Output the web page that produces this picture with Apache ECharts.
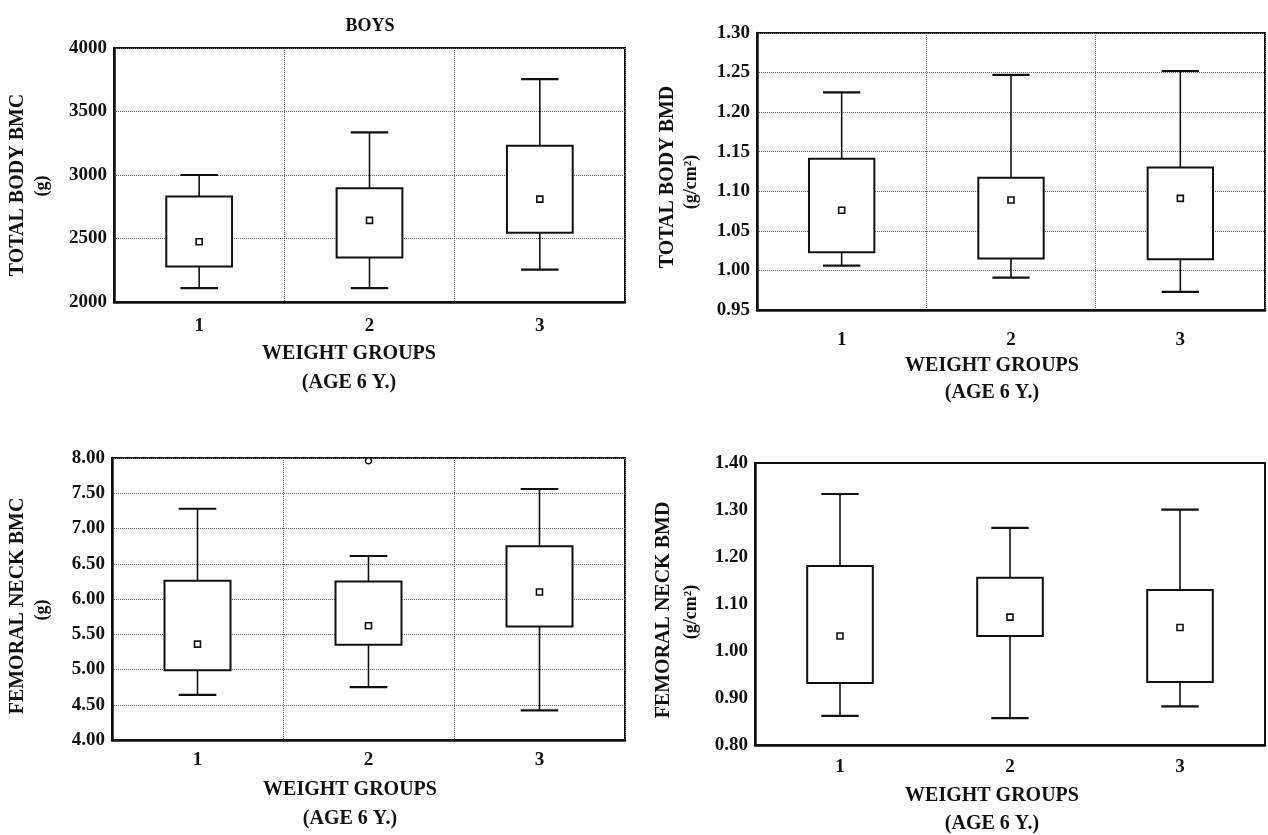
<!DOCTYPE html>
<html>
<head>
<meta charset="utf-8">
<script src="https://cdn.jsdelivr.net/npm/echarts@6/dist/echarts.min.js"></script>
<style>
html,body{margin:0;padding:0;background:#fff;}
#c{width:1268px;height:835px;}
</style>
</head>
<body>
<div id="c"></div>
<script>
// ---- data ----
const categories = ['1', '2', '3'];
// each box: [lower whisker, box bottom, box top, upper whisker]
const tbBmcBoxes = [[2110, 2280, 2830, 3000], [2110, 2350, 2895, 3335], [2255, 2545, 3230, 3755]];
const tbBmcMeans = [2475, 2643, 2810];
const tbBmdBoxes = [[1.006, 1.023, 1.141, 1.225], [0.991, 1.015, 1.117, 1.247], [0.973, 1.014, 1.130, 1.252]];
const tbBmdMeans = [1.076, 1.089, 1.091];
const fnBmcBoxes = [[4.64, 4.99, 6.26, 7.28], [4.75, 5.35, 6.25, 6.61], [4.42, 5.61, 6.75, 7.56]];
const fnBmcMeans = [5.36, 5.62, 6.10];
const fnBmcOutliers = [[1, 7.96]];
const fnBmdBoxes = [[0.862, 0.932, 1.181, 1.334], [0.857, 1.032, 1.156, 1.262], [0.882, 0.934, 1.130, 1.301]];
const fnBmdMeans = [1.032, 1.072, 1.050];
const tbBmcTicks = {min: 2000, max: 4000, interval: 500, digits: 0};
const tbBmdTicks = {min: 0.95, max: 1.30, interval: 0.05, digits: 2};
const fnBmcTicks = {min: 4.00, max: 8.00, interval: 0.5, digits: 2};
const fnBmdTicks = {min: 0.80, max: 1.40, interval: 0.1, digits: 2};

const FONT = '"Liberation Serif", "DejaVu Serif", serif';
const INK = '#111';

const grids = [
  {left: 114, top: 48, width: 511, height: 254},
  {left: 757, top: 33, width: 508, height: 277},
  {left: 112, top: 458, width: 513, height: 282},
  {left: 755, top: 463, width: 510, height: 282}
];
const ticks = [tbBmcTicks, tbBmdTicks, fnBmcTicks, fnBmdTicks];
const boxes = [tbBmcBoxes, tbBmdBoxes, fnBmcBoxes, fnBmdBoxes];
const means = [tbBmcMeans, tbBmdMeans, fnBmcMeans, fnBmdMeans];
const showGrid = [true, true, true, false];
const xLabelMargin = [15, 21, 11, 13];

function renderBox(params, api) {
  const x = api.value(0);
  const lo = api.coord([x, api.value(1)]);
  const q1 = api.coord([x, api.value(2)]);
  const q3 = api.coord([x, api.value(3)]);
  const hi = api.coord([x, api.value(4)]);
  const band = api.size([1, 0])[0];
  const bw = band * 0.193, cw = band * 0.11;
  const cx = lo[0];
  const ls = {stroke: INK, lineWidth: 1.6};
  return {
    type: 'group',
    children: [
      {type: 'line', shape: {x1: cx, y1: hi[1], x2: cx, y2: q3[1]}, style: ls},
      {type: 'line', shape: {x1: cx, y1: q1[1], x2: cx, y2: lo[1]}, style: ls},
      {type: 'line', shape: {x1: cx - cw, y1: hi[1], x2: cx + cw, y2: hi[1]}, style: {stroke: INK, lineWidth: 2.2}},
      {type: 'line', shape: {x1: cx - cw, y1: lo[1], x2: cx + cw, y2: lo[1]}, style: {stroke: INK, lineWidth: 2.2}},
      {type: 'rect', shape: {x: cx - bw, y: q3[1], width: 2 * bw, height: q1[1] - q3[1]},
        style: {fill: '#fff', stroke: INK, lineWidth: 2}}
    ]
  };
}

const xAxes = [], yAxes = [], series = [];
grids.forEach((g, i) => {
  xAxes.push({
    gridIndex: i, type: 'category', data: categories, boundaryGap: true,
    axisTick: {show: false},
    axisLine: {lineStyle: {color: INK, width: 2.5}},
    axisLabel: {color: INK, fontFamily: FONT, fontWeight: 'bold', fontSize: 19, margin: xLabelMargin[i]},
    splitLine: {show: showGrid[i], lineStyle: {type: 'dotted', color: '#666', width: 1}}
  });
  const t = ticks[i];
  yAxes.push({
    gridIndex: i, type: 'value', min: t.min, max: t.max, interval: t.interval,
    axisTick: {show: false},
    axisLine: {show: true, lineStyle: {color: INK, width: 2.5}},
    axisLabel: {color: INK, fontFamily: FONT, fontWeight: 'bold', fontSize: 19, margin: 7,
      formatter: v => v.toFixed(t.digits)},
    splitLine: {show: showGrid[i], lineStyle: {type: 'dotted', color: '#666', width: 1}}
  });
  series.push({
    type: 'custom', xAxisIndex: i, yAxisIndex: i,
    renderItem: renderBox,
    encode: {x: 0, y: [1, 2, 3, 4]},
    data: boxes[i].map((b, k) => [k, b[0], b[1], b[2], b[3]]),
    z: 3
  });
  series.push({
    type: 'scatter', xAxisIndex: i, yAxisIndex: i,
    symbol: 'rect', symbolSize: 6,
    itemStyle: {color: '#fff', borderColor: INK, borderWidth: 1.6, opacity: 1},
    data: means[i].map((m, k) => [k, m]),
    z: 5
  });
});
series.push({
  type: 'scatter', xAxisIndex: 2, yAxisIndex: 2,
  symbol: 'circle', symbolSize: 6,
  itemStyle: {color: '#fff', borderColor: INK, borderWidth: 1.4, opacity: 1},
  data: fnBmcOutliers, z: 5
});

function txt(x, y, s, size, rot) {
  return {
    type: 'text', x: x, y: y, rotation: rot ? Math.PI / 2 : 0,
    style: {text: s, fill: INK, font: 'bold ' + size + 'px ' + FONT, align: 'center', verticalAlign: 'middle'}
  };
}

const graphics = [
  txt(370, 26, 'BOYS', 18),
  txt(18, 185, 'TOTAL BODY BMC', 20, true),
  txt(42, 186, '(g)', 18, true),
  txt(349, 354, 'WEIGHT GROUPS', 20),
  txt(349, 383, '(AGE 6 Y.)', 20),
  txt(668, 177, 'TOTAL BODY BMD', 20, true),
  txt(691, 182, '(g/cm²)', 18, true),
  txt(992, 366, 'WEIGHT GROUPS', 20),
  txt(992, 393, '(AGE 6 Y.)', 20),
  txt(18, 606, 'FEMORAL NECK BMC', 20, true),
  txt(42, 610, '(g)', 18, true),
  txt(350, 790, 'WEIGHT GROUPS', 20),
  txt(350, 819, '(AGE 6 Y.)', 20),
  txt(664, 610, 'FEMORAL NECK BMD', 20, true),
  txt(691, 612, '(g/cm²)', 18, true),
  txt(992, 796, 'WEIGHT GROUPS', 20),
  txt(992, 824, '(AGE 6 Y.)', 20)
];

const chart = echarts.init(document.getElementById('c'), null, {renderer: 'canvas'});
chart.setOption({
  backgroundColor: '#fff',
  animation: false,
  grid: grids.map(g => Object.assign({show: true, borderColor: INK, borderWidth: 2, backgroundColor: 'transparent'}, g)),
  xAxis: xAxes,
  yAxis: yAxes,
  series: series,
  graphic: graphics
});
</script>
</body>
</html>
